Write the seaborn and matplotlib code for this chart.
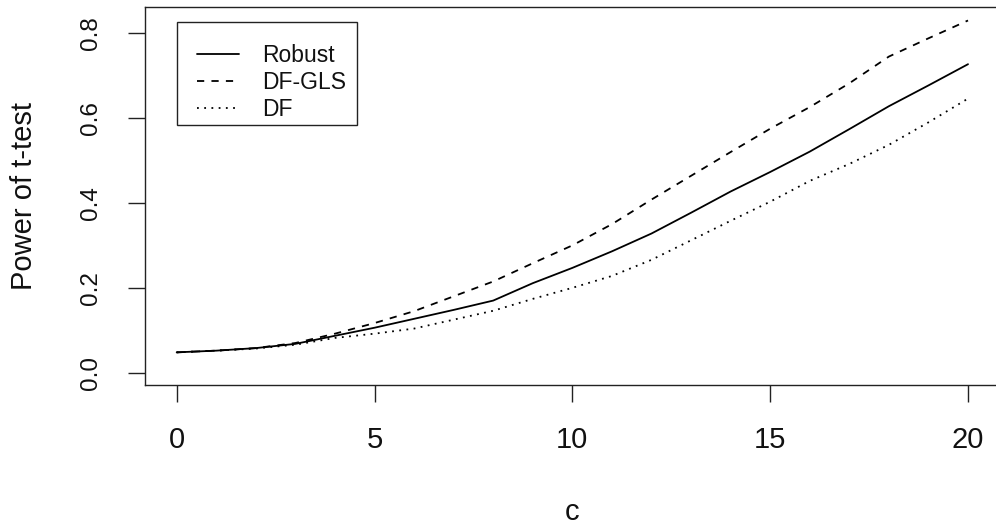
import numpy as np
import pandas as pd
import matplotlib
matplotlib.use("Agg")
import matplotlib.pyplot as plt
from matplotlib.patches import Rectangle
import seaborn as sns

# ---- data ----
c_values = [0, 1, 2, 3, 4, 5, 6, 7, 8, 9, 10, 11, 12, 13, 14, 15, 16, 17, 18, 19, 20]
robust = [0.048, 0.052, 0.058, 0.068, 0.087, 0.106, 0.127, 0.148, 0.170, 0.211, 0.247,
          0.286, 0.328, 0.377, 0.427, 0.473, 0.521, 0.574, 0.628, 0.677, 0.727]
df_gls = [0.048, 0.052, 0.058, 0.070, 0.092, 0.117, 0.145, 0.180, 0.215, 0.258, 0.300,
          0.350, 0.408, 0.464, 0.520, 0.575, 0.626, 0.682, 0.745, 0.788, 0.830]
df_test = [0.048, 0.052, 0.057, 0.066, 0.082, 0.092, 0.104, 0.125, 0.146, 0.174, 0.200,
           0.228, 0.266, 0.312, 0.358, 0.403, 0.452, 0.492, 0.537, 0.590, 0.646]
series_names = ["Robust", "DF-GLS", "DF"]
x_ticks = [0, 5, 10, 15, 20]
y_ticks = [0.0, 0.2, 0.4, 0.6, 0.8]
y_tick_labels = ["0.0", "0.2", "0.4", "0.6", "0.8"]

sns.set_theme(style="white")
plt.rcParams["font.family"] = ["Liberation Sans", "DejaVu Sans"]

fig = plt.figure(figsize=(9.96, 5.27), dpi=100)
ax = fig.add_axes([0.1456, 0.2694, 0.8581, 0.7167])

styles = {"Robust": "-", "DF-GLS": (0, (4, 4)), "DF": (0, (1, 3))}
for name, vals in zip(series_names, [robust, df_gls, df_test]):
    d = pd.DataFrame({"c": c_values, "power": vals})
    sns.lineplot(data=d, x="c", y="power", ax=ax, color="black",
                 linewidth=1.3, linestyle=styles[name], label=name)

ax.set_xlim(-0.8, 20.8)
ax.set_ylim(-0.029, 0.861)
ax.set_xticks(x_ticks)
ax.set_xticklabels([str(t) for t in x_ticks])
ax.set_yticks(y_ticks)
ax.set_yticklabels(y_tick_labels, rotation=90, va="center")

for s in ax.spines.values():
    s.set_color("#222222")
    s.set_linewidth(1.0)

ax.tick_params(axis="both", which="major", direction="out", length=12,
               width=1.0, color="#222222", labelcolor="#111111",
               bottom=True, left=True)
ax.tick_params(axis="x", pad=17.5, labelsize=21)
ax.tick_params(axis="y", pad=19, labelsize=17.5)

ax.set_xlabel("c", fontsize=21, color="#111111")
ax.set_ylabel("Power of t-test", fontsize=21, color="#111111")
ax.xaxis.set_label_coords(0.5, -0.30)
ax.yaxis.set_label_coords(-0.125, 0.5)

leg = ax.legend(loc="upper left", bbox_to_anchor=(0.0605, 0.903), borderaxespad=0,
                fontsize=16.5, frameon=False,
                handlelength=1.85, handletextpad=1.0, labelspacing=0.17,
                borderpad=0.0)
for t in leg.get_texts():
    t.set_color("#111111")
# legend box (R-style frame with uneven padding)
ax.add_patch(Rectangle((0.0378, 0.6884), 0.2099, 0.2735, transform=ax.transAxes,
                       fill=False, edgecolor="#222222", linewidth=1.0, zorder=5))

fig.savefig("out.png", dpi=100, facecolor="white")
